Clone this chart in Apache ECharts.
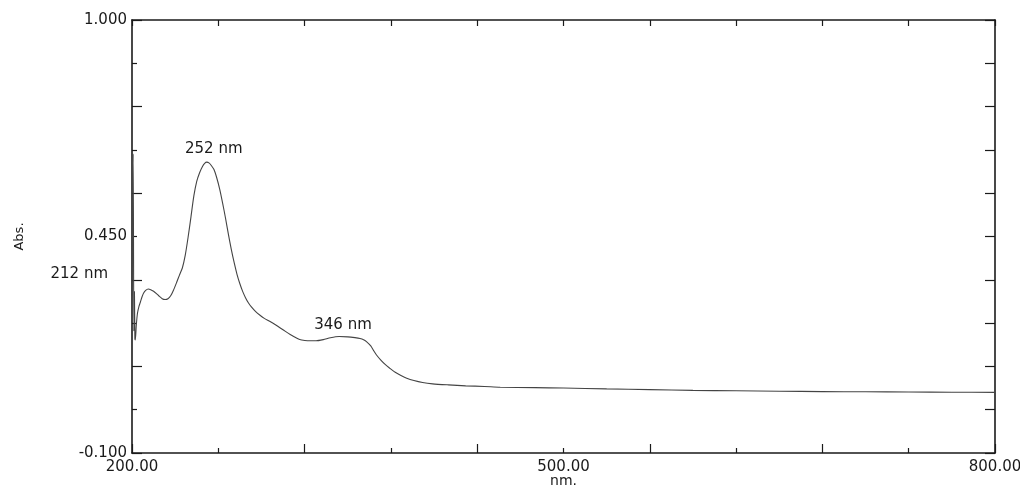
<!DOCTYPE html>
<html>
<head>
<meta charset="utf-8">
<script src="https://cdn.jsdelivr.net/npm/echarts@6/dist/echarts.min.js"></script>
<style>
html,body{margin:0;padding:0;background:#fff;}
#chart{width:1020px;height:489px;}
</style>
</head>
<body>
<div id="chart"></div>
<script>
// Wavelength (nm) and absorbance readings
const wavelengths = [200.0,200.8,201.3,201.7,202.0,202.3,203.0,203.8,204.8,205.8,207,208,209.5,211.3,213,215,217,219,221,223,225,227,229,231,233,235,237,239,241,243,245,247,249,250.5,252,253.5,255,257,259,261,263,265,267,269,271,273,275,277,279,281,283,286,289,292,296,300,305,310,315,318,322,328,333,338,344,350,355,358.5,361,363,366,368,370,373,376,379,383,387,391,396,402,409,420,432,445,456,480,500,530,560,590,620,650,680,710,740,770,800];
const absorbance = [0.30,0.66,0.21,0.31,0.19,0.187,0.225,0.255,0.272,0.283,0.297,0.306,0.313,0.3165,0.315,0.311,0.305,0.298,0.292,0.290,0.292,0.300,0.315,0.333,0.352,0.370,0.402,0.448,0.500,0.553,0.590,0.612,0.628,0.636,0.639,0.637,0.631,0.620,0.598,0.570,0.535,0.497,0.456,0.418,0.384,0.354,0.330,0.310,0.294,0.281,0.271,0.259,0.250,0.242,0.234,0.225,0.213,0.201,0.191,0.187,0.185,0.185,0.188,0.193,0.196,0.195,0.193,0.191,0.188,0.183,0.172,0.160,0.149,0.136,0.125,0.116,0.105,0.097,0.090,0.084,0.079,0.0757,0.073,0.0706,0.069,0.067,0.066,0.065,0.063,0.061,0.059,0.058,0.057,0.056,0.0555,0.055,0.0545,0.054];
// Peak annotations
const peakNm = [252, 346, 211.3];
const peakAbs = [0.639, 0.196, 0.3165];
const peakLabels = ['252 nm', '346 nm', '212 nm'];
// Axis ranges
const xMin = 200, xMax = 800;
const yMin = -0.1, yMax = 1.0;

const seriesData = wavelengths.map((w, i) => [w, absorbance[i]]);
const FONT = '"DejaVu Sans", sans-serif';
const AX = '#1a1a1a';

const chart = echarts.init(document.getElementById('chart'), null, {renderer: 'canvas'});
const offsets = [[7, 0], [1, 1], [-69, -2]];
chart.setOption({
  animation: false,
  backgroundColor: '#fff',
  grid: {left: 132, right: 25, top: 20, bottom: 36, outerBoundsMode: 'none', containLabel: false},
  xAxis: [
    {type: 'value', position: 'bottom', min: xMin, max: xMax, interval: 120,
     axisLine: {show: true, onZero: false, lineStyle: {color: AX, width: 1.6}},
     axisTick: {show: true, inside: true, length: 9, lineStyle: {color: AX, width: 1.2}},
     minorTick: {show: true, splitNumber: 2, length: 5, lineStyle: {color: AX, width: 1.2}},
     axisLabel: {show: false}, splitLine: {show: false}},
    {type: 'value', position: 'bottom', min: xMin, max: xMax, interval: 300,
     axisLine: {show: false}, axisTick: {show: false}, splitLine: {show: false},
     axisLabel: {show: true, margin: 7, color: AX, fontSize: 15, fontFamily: FONT,
       formatter: v => v.toFixed(2)},
     name: 'nm.', nameLocation: 'middle', nameGap: 21, nameMoveOverlap: false,
     nameTextStyle: {color: AX, fontSize: 14, fontFamily: FONT, verticalAlign: 'top'}},
    {type: 'value', position: 'top', min: xMin, max: xMax, interval: 60,
     axisLine: {show: true, onZero: false, lineStyle: {color: AX, width: 1.6}},
     axisTick: {show: true, inside: true, length: 6, lineStyle: {color: AX, width: 1.2}},
     axisLabel: {show: false}, splitLine: {show: false}}
  ],
  yAxis: [
    {type: 'value', position: 'left', min: yMin, max: yMax, interval: 0.22,
     axisLine: {show: true, onZero: false, lineStyle: {color: AX, width: 1.6}},
     axisTick: {show: true, inside: true, length: 10, lineStyle: {color: AX, width: 1.2}},
     minorTick: {show: true, splitNumber: 2, length: 5, lineStyle: {color: AX, width: 1.2}},
     axisLabel: {show: false}, splitLine: {show: false}},
    {type: 'value', position: 'left', min: yMin, max: yMax, interval: 0.55,
     axisLine: {show: false}, axisTick: {show: false}, splitLine: {show: false},
     axisLabel: {show: true, margin: 5, color: AX, fontSize: 15, fontFamily: FONT,
       formatter: v => v.toFixed(3)},
     name: 'Abs.', nameLocation: 'middle', nameGap: 106, nameRotate: 90, nameMoveOverlap: false,
     nameTextStyle: {color: AX, fontSize: 13, fontFamily: FONT}},
    {type: 'value', position: 'right', min: yMin, max: yMax, interval: 0.11,
     axisLine: {show: true, onZero: false, lineStyle: {color: AX, width: 1.6}},
     axisTick: {show: true, inside: true, length: 10, lineStyle: {color: AX, width: 1.2}},
     axisLabel: {show: false}, splitLine: {show: false}}
  ],
  series: [{
    type: 'line', xAxisIndex: 0, yAxisIndex: 0, z: 10,
    data: seriesData, showSymbol: false, smooth: 0.25, clip: false,
    lineStyle: {color: '#444', width: 1.1},
    markPoint: {
      symbol: 'circle', symbolSize: 0, silent: true,
      label: {show: true, position: 'top', color: AX, fontSize: 15, fontFamily: FONT},
      data: peakNm.map((n, i) => ({
        coord: [n, peakAbs[i]],
        label: {formatter: peakLabels[i], offset: offsets[i]}
      }))
    }
  }]
});
</script>
</body>
</html>
